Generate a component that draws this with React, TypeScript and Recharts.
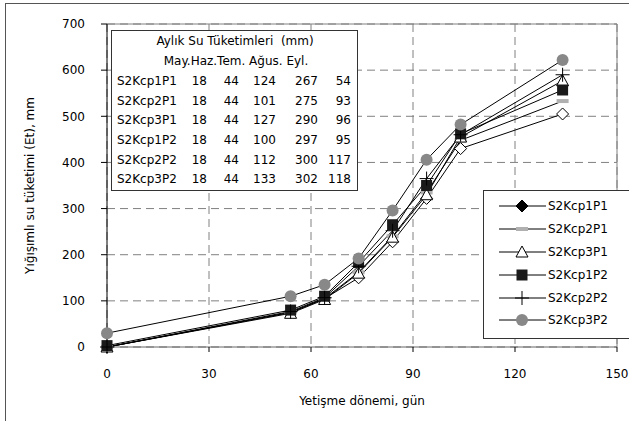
import React from 'react';
import {
  LineChart,
  Line,
  XAxis,
  YAxis,
  CartesianGrid,
  Legend,
  ReferenceLine,
} from 'recharts';

// ---- data ----
const days = [0, 54, 64, 74, 84, 94, 104, 134];
const s2Kcp1P1 = [0, 75, 105, 150, 228, 322, 430, 505];
const s2Kcp2P1 = [0, 75, 105, 162, 240, 335, 448, 533];
const s2Kcp3P1 = [0, 73, 103, 160, 238, 330, 455, 577];
const s2Kcp1P2 = [3, 80, 110, 183, 265, 350, 462, 557];
const s2Kcp2P2 = [0, 77, 107, 175, 252, 365, 460, 590];
const s2Kcp3P2 = [30, 110, 135, 192, 296, 406, 482, 622];

const seriesNames = ['S2Kcp1P1', 'S2Kcp2P1', 'S2Kcp3P1', 'S2Kcp1P2', 'S2Kcp2P2', 'S2Kcp3P2'];
const seriesValues = [s2Kcp1P1, s2Kcp2P1, s2Kcp3P1, s2Kcp1P2, s2Kcp2P2, s2Kcp3P2];

const xTicks = [0, 30, 60, 90, 120, 150];
const yTicks = [0, 100, 200, 300, 400, 500, 600, 700];

// table of monthly consumption
const tableTitle = 'Aylık Su Tüketimleri  (mm)';
const tableMonths = 'May.Haz.Tem. Ağus. Eyl.';
const tableRowNames = ['S2Kcp1P1', 'S2Kcp2P1', 'S2Kcp3P1', 'S2Kcp1P2', 'S2Kcp2P2', 'S2Kcp3P2'];
const tableMay = [18, 18, 18, 18, 18, 18];
const tableHaz = [44, 44, 44, 44, 44, 44];
const tableTem = [124, 101, 127, 100, 112, 133];
const tableAgus = [267, 275, 290, 297, 300, 302];
const tableEyl = [54, 93, 96, 95, 117, 118];

const data = days.map((d, i) => {
  const row: Record<string, number> = { day: d };
  seriesNames.forEach((n, k) => {
    row[n] = seriesValues[k][i];
  });
  return row;
});

const FONT = '"DejaVu Sans", Verdana, sans-serif';

// ---- markers ----
type MarkerKind = 'diamond' | 'dash' | 'triangle' | 'square' | 'plus' | 'circle';
const markerKinds: MarkerKind[] = ['diamond', 'dash', 'triangle', 'square', 'plus', 'circle'];

function Marker({ kind, cx, cy, legend }: { kind: MarkerKind; cx: number; cy: number; legend?: boolean }) {
  switch (kind) {
    case 'diamond':
      return (
        <polygon
          points={`${cx},${cy - 6} ${cx + 6},${cy} ${cx},${cy + 6} ${cx - 6},${cy}`}
          fill={legend ? '#000' : '#fff'}
          stroke="#000"
          strokeWidth={1}
        />
      );
    case 'dash':
      return <rect x={cx - 6} y={cy - 2} width={12} height={4} fill="#b0b0b0" />;
    case 'triangle':
      return (
        <polygon
          points={`${cx},${cy - 6} ${cx + 6},${cy + 5} ${cx - 6},${cy + 5}`}
          fill="#fff"
          stroke="#000"
          strokeWidth={1}
        />
      );
    case 'square':
      return <rect x={cx - 5.5} y={cy - 5.5} width={11} height={11} fill="#1a1a1a" />;
    case 'plus':
      return (
        <g stroke="#000" strokeWidth={1}>
          <line x1={cx - 7} y1={cy} x2={cx + 7} y2={cy} />
          <line x1={cx} y1={cy - 7} x2={cx} y2={cy + 7} />
        </g>
      );
    case 'circle':
    default:
      return <circle cx={cx} cy={cy} r={6} fill="#888" />;
  }
}

const renderLegend = () => (
  <div
    style={{
      width: 170,
      height: 149,
      border: '1px solid #333',
      background: '#fff',
      boxSizing: 'border-box',
      fontFamily: FONT,
      fontSize: 12,
      color: '#000',
      paddingTop: 4,
    }}
  >
    {seriesNames.map((n, k) => (
      <div key={n} style={{ display: 'flex', alignItems: 'center', height: 22.8 }}>
        <svg width={64} height={20} style={{ display: 'block' }}>
          <line x1={15} y1={10} x2={62} y2={10} stroke="#000" strokeWidth={1} />
          <Marker kind={markerKinds[k]} cx={38} cy={10} legend />
        </svg>
        <span style={{ lineHeight: '20px' }}>{n}</span>
      </div>
    ))}
  </div>
);

const tableColEnds = [207, 239, 276, 318, 351];

function DataTable() {
  const cols = [tableMay, tableHaz, tableTem, tableAgus, tableEyl];
  return (
    <div
      style={{
        position: 'absolute',
        left: 111,
        top: 30,
        width: 247,
        height: 161,
        border: '1px solid #333',
        background: '#fff',
        boxSizing: 'border-box',
        fontFamily: FONT,
        fontSize: 12,
        color: '#000',
      }}
    >
      <svg width={247} height={161} style={{ display: 'block', position: 'absolute', left: -1, top: -1 }}>
        <text
          x={124}
          y={11}
          dy="0.35em"
          textAnchor="middle"
          fontFamily={FONT}
          fontSize={12}
          style={{ whiteSpace: 'pre' }}
        >
          {tableTitle}
        </text>
        <text x={125} y={31} dy="0.35em" textAnchor="middle" fontFamily={FONT} fontSize={12}>
          {tableMonths}
        </text>
        {tableRowNames.map((name, r) => (
          <g key={name}>
            <text x={6} y={51 + r * 19.6} dy="0.35em" fontFamily={FONT} fontSize={12}>
              {name}
            </text>
            {cols.map((c, j) => (
              <text
                key={j}
                x={tableColEnds[j] - 111}
                y={51 + r * 19.6}
                dy="0.35em"
                textAnchor="end"
                fontFamily={FONT}
                fontSize={12}
              >
                {c[r]}
              </text>
            ))}
          </g>
        ))}
      </svg>
    </div>
  );
}

export default function App() {
  return (
    <div
      style={{
        position: 'fixed',
        left: 0,
        top: 0,
        width: 629,
        height: 421,
        overflow: 'hidden',
        background: '#fff',
      }}
    >
      <div
        style={{
          position: 'absolute',
          left: 5,
          top: 3,
          width: 700,
          height: 500,
          border: '1px solid #555',
          boxSizing: 'border-box',
        }}
      />
      <div style={{ position: 'absolute', left: 0, top: 0 }}>
        <LineChart
          width={629}
          height={421}
          data={data}
          margin={{ top: 24, right: 12, bottom: 0, left: 0 }}
          style={{ fontFamily: FONT }}
        >
          <CartesianGrid stroke="#808080" strokeDasharray="8 5" strokeWidth={1} />
          <XAxis
            dataKey="day"
            type="number"
            domain={[0, 150]}
            ticks={xTicks}
            height={74}
            tickSize={5}
            tickMargin={17}
            stroke="#666"
            tick={{ fill: '#000', fontSize: 12, fontFamily: FONT }}
            tickLine={{ stroke: '#000' }}
            label={{
              value: 'Yetişme dönemi, gün',
              position: 'insideBottom',
              offset: 16,
              fill: '#000',
              fontSize: 12,
              fontFamily: FONT,
            }}
          />
          <YAxis
            type="number"
            domain={[0, 700]}
            ticks={yTicks}
            width={107}
            tickSize={6}
            tickMargin={16}
            stroke="#000"
            tick={{ fill: '#000', fontSize: 12, fontFamily: FONT }}
            label={{
              value: 'Yığışımlı su tüketimi (Et), mm',
              angle: -90,
              position: 'insideLeft',
              offset: 30,
              fill: '#000',
              fontSize: 12,
              fontFamily: FONT,
              style: { textAnchor: 'middle' },
            }}
          />
          <ReferenceLine y={700} stroke="#808080" strokeWidth={1} />
          <ReferenceLine x={150} stroke="#808080" strokeWidth={1} />
          {seriesNames.map((n, k) => (
            <Line
              key={n}
              dataKey={n}
              name={n}
              type="linear"
              stroke="#000"
              strokeWidth={1}
              isAnimationActive={false}
              dot={(p: any) => <Marker key={`${n}-${p.index}`} kind={markerKinds[k]} cx={p.cx} cy={p.cy} />}
              activeDot={false}
            />
          ))}
          <Legend
            layout="vertical"
            align="center"
            verticalAlign="middle"
            content={renderLegend}
            wrapperStyle={{ left: 483, top: 190, width: 170, height: 149 }}
          />
        </LineChart>
      </div>
      <DataTable />
    </div>
  );
}
